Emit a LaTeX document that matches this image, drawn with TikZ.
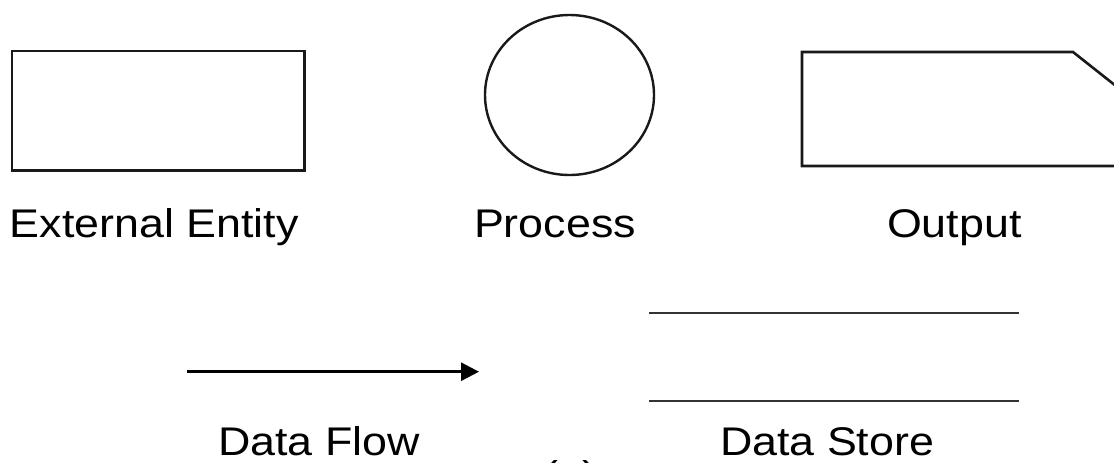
\documentclass[tikz,border=0pt]{standalone}
\usepackage{fontspec}
\setmainfont{Liberation Sans}[FakeStretch=1.12]
\usetikzlibrary{arrows.meta}
\usetikzlibrary{shapes.geometric,positioning}

\begin{document}
\begin{tikzpicture}[
        x=0.5pt, y=-0.5pt,
        line width=1pt,
        shapebox/.style={rectangle, draw=black!90, line width=1.3pt, inner sep=0pt},
        caption/.style={anchor=base west, inner sep=0pt, font=\fontsize{20}{24}\selectfont},
        storeline/.style={draw=black!80, line width=1pt},
        flow/.style={-{Triangle[length=9pt, width=9pt]}, line width=1.4pt}
      ]
        \useasboundingbox (0,0) rectangle (1114,462);

        \node (entity) [shapebox, minimum width=146.4pt, minimum height=59.8pt] at (158.3,110.8) {};
        \node (process) [ellipse, draw=black!90, line width=1.2pt, inner sep=0pt, minimum width=84.5pt, minimum height=80pt] at (569.5,95) {};

        % output shape runs past the right edge
        \draw[draw=black!90, line width=1.3pt] (802,52) -- (1073,52) -- (1140,105) -- (1140,166) -- (802,166) -- cycle;

        \node (entitytext) [caption] at (9,237) {External Entity};
        \node (processtext) [caption] at (473,237) {Process};
        \node (outputtext) [caption] at (886,237) {Output};

        \coordinate (flowstart) at (187,371.7);
        \coordinate (flowend) at (479,371.7);
        \draw[flow] (flowstart) -- (flowend);

        \coordinate (storetl) at (649,313.3);
        \coordinate (storetr) at (1019,313.3);
        \coordinate (storebl) at (649,401);
        \coordinate (storebr) at (1019,401);
        \draw[storeline] (storetl) -- (storetr);
        \draw[storeline] (storebl) -- (storebr);

        \node (flowtext) [caption] at (217,455) {Data Flow};
        \node (storetext) [caption] at (719,455) {Data Store};
        % figure label, only its top shows
        \node (figlabel) [caption] at (542,489) {(a)};
      \end{tikzpicture}
\end{document}
